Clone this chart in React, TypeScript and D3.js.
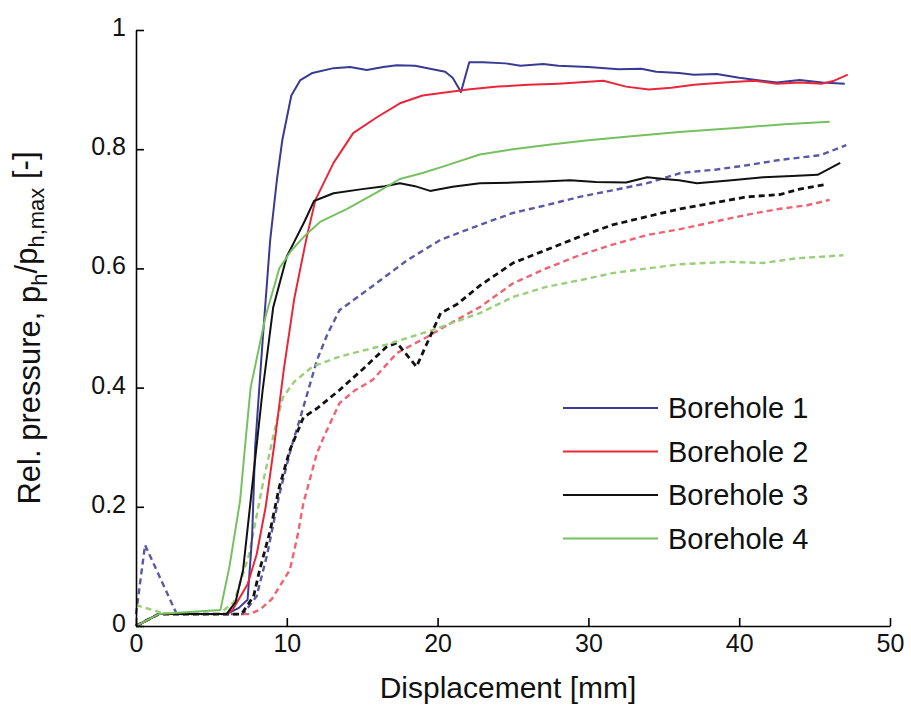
import React, { useEffect, useRef } from 'react';
import * as d3 from 'd3';

type P = [number, number];

const xTicks = [0, 10, 20, 30, 40, 50];
const yTicks = [0, 0.2, 0.4, 0.6, 0.8, 1];
const legendNames = ['Borehole 1', 'Borehole 2', 'Borehole 3', 'Borehole 4'];

const b1Solid: P[] = [[0,0],[1.5,0.02],[6,0.02],[6.8,0.03],[7.4,0.044],[7.7,0.15],[7.9,0.3],[8.4,0.48],[8.9,0.648],[9.35,0.75],[9.7,0.815],[10.3,0.89],[10.9,0.916],[11.7,0.928],[13.1,0.936],[14.2,0.938],[15.3,0.933],[16.4,0.938],[17.3,0.941],[18.5,0.94],[19.5,0.935],[20.5,0.93],[21,0.92],[21.55,0.896],[22.1,0.946],[23,0.946],[24.5,0.944],[25.5,0.94],[27,0.943],[28,0.94],[30,0.938],[32,0.934],[33.5,0.935],[34.5,0.93],[36,0.928],[37,0.925],[38.5,0.926],[40,0.92],[41.5,0.915],[42.5,0.912],[44,0.916],[45.5,0.912],[47,0.91]];
const b2Solid: P[] = [[0,0],[1.5,0.02],[6,0.02],[6.4,0.027],[7.4,0.07],[8,0.12],[8.6,0.2],[9.2,0.31],[9.8,0.43],[10.5,0.55],[11.3,0.65],[11.9,0.715],[13.1,0.777],[14.4,0.827],[16,0.854],[17.5,0.877],[19,0.89],[20.5,0.895],[22,0.9],[24,0.905],[26,0.908],[28,0.91],[30,0.913],[31,0.915],[32.5,0.905],[34,0.9],[35.5,0.903],[37,0.908],[39,0.912],[41,0.915],[42.5,0.91],[44,0.912],[45.5,0.91],[46.3,0.915],[47.2,0.925]];
const b3Solid: P[] = [[0,0],[1.5,0.02],[6,0.02],[6.6,0.04],[7.1,0.094],[7.6,0.21],[8.4,0.396],[9.1,0.535],[10,0.62],[10.5,0.645],[11.2,0.68],[11.8,0.713],[13.1,0.726],[15,0.733],[16.5,0.738],[17.5,0.743],[18.5,0.738],[19.5,0.73],[21,0.737],[22.8,0.743],[25,0.744],[27,0.746],[28.8,0.748],[30.5,0.745],[32.5,0.744],[33.9,0.753],[35,0.75],[36,0.748],[37.2,0.743],[39.5,0.748],[41.6,0.753],[43.5,0.755],[45.2,0.757],[46.7,0.777]];
const b4Solid: P[] = [[0,0],[1.5,0.02],[5.6,0.027],[6.2,0.1],[6.9,0.21],[7.3,0.32],[7.6,0.4],[8.6,0.52],[9.5,0.6],[10.3,0.63],[11.2,0.655],[12.2,0.678],[14,0.7],[16,0.728],[17.5,0.75],[19,0.76],[20.5,0.772],[22.8,0.791],[25,0.8],[27.5,0.808],[30,0.815],[32.5,0.821],[36,0.829],[40,0.836],[43,0.842],[46,0.846]];

const b1Dashed: P[] = [[0,0.02],[0.6,0.136],[2.7,0.02],[7.1,0.02],[8,0.05],[8.7,0.12],[9.5,0.22],[10.3,0.3],[10.9,0.35],[12,0.446],[12.7,0.49],[13.5,0.53],[14.7,0.552],[16.2,0.58],[18,0.614],[20.2,0.648],[22.8,0.673],[25,0.693],[27.2,0.706],[29.4,0.72],[31.6,0.731],[33.9,0.743],[35.2,0.753],[36.1,0.76],[38.5,0.766],[40.5,0.773],[42.7,0.782],[45.4,0.79],[47.1,0.807]];
const b2Dashed: P[] = [[0,0],[1.5,0.02],[7.5,0.02],[8.2,0.027],[9,0.045],[10.2,0.094],[10.7,0.15],[11.1,0.206],[12,0.29],[12.5,0.32],[13.5,0.374],[14.5,0.395],[15.7,0.413],[17.3,0.458],[19.3,0.485],[21,0.51],[22.8,0.535],[25,0.575],[27.2,0.6],[29.4,0.622],[31.6,0.64],[33.9,0.656],[36.1,0.666],[38.3,0.678],[40.5,0.69],[42.7,0.7],[44.5,0.706],[46,0.715]];
const b3Dashed: P[] = [[0,0],[1.5,0.02],[7,0.02],[7.8,0.05],[8.2,0.094],[8.9,0.16],[9.5,0.233],[10.2,0.295],[11.1,0.35],[12,0.365],[13.5,0.396],[15,0.43],[16.6,0.468],[17.3,0.475],[18.6,0.435],[19.4,0.48],[20.2,0.525],[21.3,0.54],[22.8,0.571],[25,0.609],[27.2,0.631],[29.4,0.653],[31.6,0.673],[33.9,0.687],[36.1,0.7],[38.3,0.71],[40.5,0.72],[42.7,0.724],[44,0.733],[45.6,0.74]];
const b4Dashed: P[] = [[0,0.035],[2,0.02],[5.5,0.02],[6.5,0.04],[7.5,0.12],[8.5,0.25],[9.3,0.34],[9.75,0.384],[10.5,0.41],[11.7,0.435],[13.5,0.452],[16.6,0.472],[19.7,0.497],[22.8,0.525],[25,0.552],[27.2,0.569],[29.4,0.58],[31.6,0.592],[33.9,0.6],[36.1,0.607],[39.4,0.611],[41.6,0.609],[43.8,0.617],[46.9,0.622]];

const solidColors = ['#3a3a92', '#e8283a', '#111111', '#76c060'];
const dashedColors = ['#5a5aa4', '#f06272', '#111111', '#98cf78'];
const dashedWidths = [2.4, 2.4, 2.8, 2.4];

const W = 911, H = 708;
const FONT = '"Liberation Sans", Arial, Helvetica, sans-serif';

export default function App() {
  const xAxisRef = useRef<SVGGElement>(null);
  const yAxisRef = useRef<SVGGElement>(null);

  const x = d3.scaleLinear().domain([0, 50]).range([136, 890]);
  const y = d3.scaleLinear().domain([0, 1]).range([626, 30]);
  const line = d3.line<P>().x(d => x(d[0])).y(d => y(d[1]));

  useEffect(() => {
    const gx = d3.select(xAxisRef.current!);
    gx.call(d3.axisBottom(x).tickValues(xTicks).tickSizeInner(-8).tickSizeOuter(0).tickPadding(8).tickFormat(d => String(d)) as any);
    gx.selectAll('path,line').attr('stroke', '#000').attr('stroke-width', 1.6);
    gx.selectAll('text').attr('font-size', 25).attr('font-family', FONT).attr('fill', '#111');
    const gy = d3.select(yAxisRef.current!);
    gy.call(d3.axisLeft(y).tickValues(yTicks).tickSizeInner(-8).tickSizeOuter(0).tickPadding(10).tickFormat(d => String(d)) as any);
    gy.selectAll('path,line').attr('stroke', '#000').attr('stroke-width', 1.6);
    gy.selectAll('text').attr('font-size', 25).attr('font-family', FONT).attr('fill', '#111').attr('dy', '0.22em');
  }, []);

  const solids = [b1Solid, b2Solid, b3Solid, b4Solid];
  const dashes = [b1Dashed, b2Dashed, b3Dashed, b4Dashed];

  return (
    <svg width={W} height={H} style={{ position: 'absolute', left: 0, top: 0, background: '#fff' }} fontFamily={FONT}>
      <rect width={W} height={H} fill="#fff" />
      {dashes.map((d, i) => (
        <path key={'d' + i} d={line(d) || ''} fill="none" stroke={dashedColors[i]} strokeWidth={dashedWidths[i]} strokeDasharray="6,4" />
      ))}
      {solids.map((d, i) => (
        <path key={'s' + i} d={line(d) || ''} fill="none" stroke={solidColors[i]} strokeWidth={2} strokeLinejoin="round" />
      ))}
      <g ref={xAxisRef} transform={`translate(0,${y(0)})`} />
      <g ref={yAxisRef} transform={`translate(${x(0)},0)`} />
      <text x={508} y={698} textAnchor="middle" fontSize={30} fill="#111">Displacement [mm]</text>
      <text transform={`translate(40,${y(0.5)}) rotate(-90)`} textAnchor="middle" fontSize={31} fill="#111">
        Rel. pressure, p<tspan dy="0.3em" fontSize={22}>h</tspan><tspan dy="-0.3em">/p</tspan><tspan dy="0.3em" fontSize={22}>h,max</tspan><tspan dy="-0.3em"> [-]</tspan>
      </text>
      {legendNames.map((n, i) => {
        const ly = 408 + i * 43.5;
        return (
          <g key={n}>
            <line x1={563} x2={658} y1={ly} y2={ly} stroke={solidColors[i]} strokeWidth={2.2} />
            <text x={668} y={ly} dy="0.36em" fontSize={29} fill="#111">{n}</text>
          </g>
        );
      })}
    </svg>
  );
}
